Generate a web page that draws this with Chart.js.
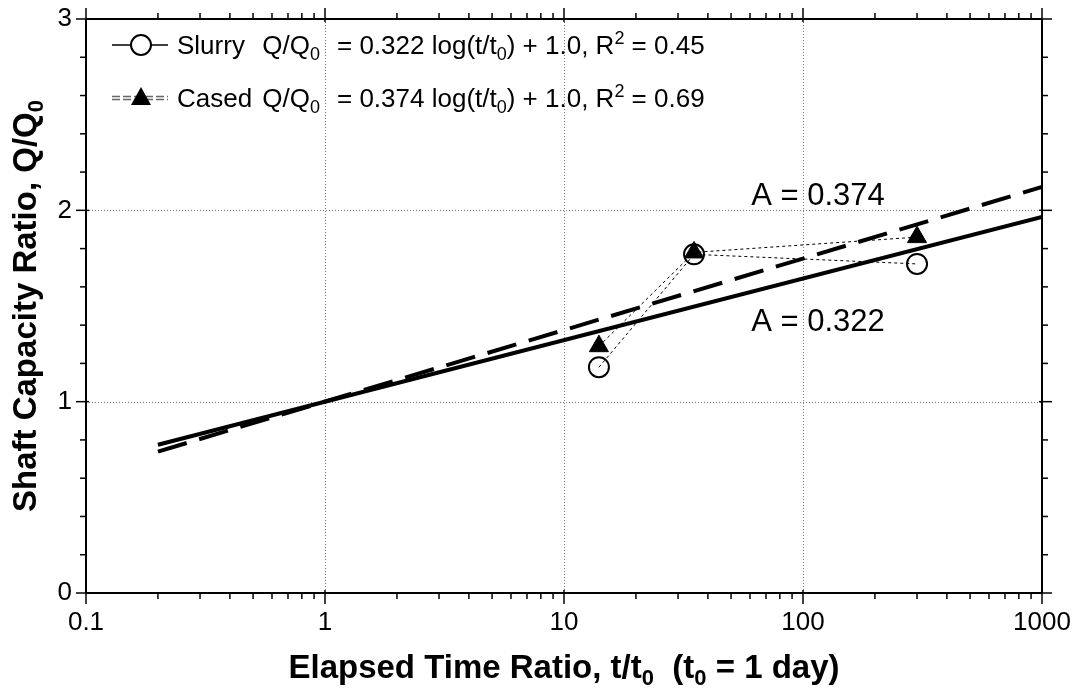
<!DOCTYPE html>
<html>
<head>
<meta charset="utf-8">
<script src="https://cdn.jsdelivr.net/npm/chart.js@4.4.1/dist/chart.umd.min.js"></script>
<style>
  html, body { margin: 0; background: #fff; }
  #wrap { width: 1075px; height: 689px; }
</style>
</head>
<body>
<div id="wrap"><canvas id="chart"></canvas></div>
<script>
// fitted lines (end points)
const fitX = [0.2, 1000];
const slurryFit = [0.775, 1.966];
const casedFit = [0.739, 2.122];

// measured points
const testTimes = [14, 35, 300];
const slurryRatio = [1.18, 1.77, 1.72];
const casedRatio = [1.29, 1.78, 1.86];

const xTickValues = [0.1, 1, 10, 100, 1000];
const xTickLabels = ['0.1', '1', '10', '100', '1000'];
const yTickValues = [0, 1, 2, 3];
const yTickLabels = ['0', '1', '2', '3'];

const FONT = '"Liberation Sans", Arial, sans-serif';

const pts = (xs, ys) => xs.map((x, i) => ({ x, y: ys[i] }));

// text with sub/superscript pieces
function richWidth(ctx, parts, size, bold) {
  let w = 0;
  parts.forEach(([t, k]) => {
    const s = k === 'n' ? size : Math.round(size * 0.68);
    ctx.font = (bold ? 'bold ' : '') + s + 'px ' + FONT;
    w += ctx.measureText(t).width;
  });
  return w;
}
function drawRich(ctx, x, y, parts, size, bold) {
  ctx.textBaseline = 'alphabetic';
  ctx.textAlign = 'left';
  parts.forEach(([t, k]) => {
    const s = k === 'n' ? size : Math.round(size * 0.68);
    ctx.font = (bold ? 'bold ' : '') + s + 'px ' + FONT;
    let dy = 0;
    if (k === 'sub') dy = size * 0.22;
    if (k === 'sup') dy = -size * 0.4;
    ctx.fillText(t, x, y + dy);
    x += ctx.measureText(t).width;
  });
  return x;
}

const decorations = {
  id: 'decorations',
  beforeDatasetsDraw(chart) {
    const { ctx, chartArea: a, scales: { x, y } } = chart;
    ctx.save();
    ctx.strokeStyle = '#777';
    ctx.lineWidth = 1;
    ctx.setLineDash([1, 2]);
    xTickValues.slice(1, -1).forEach(v => {
      const px = Math.round(x.getPixelForValue(v)) + 0.5;
      ctx.beginPath(); ctx.moveTo(px, a.top); ctx.lineTo(px, a.bottom); ctx.stroke();
    });
    yTickValues.slice(1, -1).forEach(v => {
      const py = Math.round(y.getPixelForValue(v)) + 0.5;
      ctx.beginPath(); ctx.moveTo(a.left, py); ctx.lineTo(a.right, py); ctx.stroke();
    });
    ctx.restore();
  },
  afterDatasetsDraw(chart) {
    const { ctx, chartArea: a, scales: { x, y } } = chart;
    ctx.save();
    ctx.strokeStyle = '#000';
    ctx.fillStyle = '#000';
    ctx.setLineDash([]);

    // ticks
    ctx.lineWidth = 1.5;
    const line = (x1, y1, x2, y2) => { ctx.beginPath(); ctx.moveTo(x1, y1); ctx.lineTo(x2, y2); ctx.stroke(); };
    for (let d = 0; d < xTickValues.length; d++) {
      const px = x.getPixelForValue(xTickValues[d]);
      line(px, a.bottom - 3, px, a.bottom + 11);
      line(px, a.top + 3, px, a.top - 11);
      if (d < xTickValues.length - 1) {
        for (let k = 2; k <= 9; k++) {
          const mx = x.getPixelForValue(xTickValues[d] * k);
          line(mx, a.bottom, mx, a.bottom + 6);
          line(mx, a.top, mx, a.top - 6);
        }
      }
    }
    for (let v = 0; v <= 15; v++) {
      const py = y.getPixelForValue(v * 0.2);
      const major = v % 5 === 0;
      line(a.left - (major ? 10 : 6), py, a.left + (major ? 3 : 0), py);
      line(a.right + (major ? 10 : 6), py, a.right - (major ? 3 : 0), py);
    }

    // frame
    ctx.lineWidth = 2;
    ctx.strokeRect(a.left, a.top, a.right - a.left, a.bottom - a.top);

    // legend
    const lx1 = 112, lx2 = 168, lc = 141;
    let ly = 45;
    ctx.lineWidth = 1.5;
    line(lx1, ly, lx2, ly);
    ctx.fillStyle = '#fff';
    ctx.beginPath(); ctx.arc(lc, ly, 10, 0, Math.PI * 2); ctx.fill();
    ctx.lineWidth = 2; ctx.stroke();
    ctx.fillStyle = '#000';
    ly = 98;
    ctx.strokeStyle = '#666';
    ctx.lineWidth = 1.5;
    ctx.setLineDash([8, 3]);
    line(lx1, ly - 1.5, lx2, ly - 1.5);
    line(lx1, ly + 1.5, lx2, ly + 1.5);
    ctx.setLineDash([]);
    ctx.strokeStyle = '#000';
    ctx.beginPath();
    ctx.moveTo(lc, ly - 11); ctx.lineTo(lc + 10, ly + 7); ctx.lineTo(lc - 10, ly + 7); ctx.closePath();
    ctx.fill();

    const LS = 26;
    const qParts = [['Q/Q', 'n'], ['0', 'sub']];
    const qEnd = 320, eqX = 337;
    const rows = [
      { y: 54, name: 'Slurry', eq: [['= 0.322 log(t/t', 'n'], ['0', 'sub'], [') + 1.0, R', 'n'], ['2', 'sup'], [' = 0.45', 'n']] },
      { y: 107, name: 'Cased', eq: [['= 0.374 log(t/t', 'n'], ['0', 'sub'], [') + 1.0, R', 'n'], ['2', 'sup'], [' = 0.69', 'n']] }
    ];
    rows.forEach(r => {
      drawRich(ctx, 177, r.y, [[r.name, 'n']], LS, false);
      drawRich(ctx, qEnd - richWidth(ctx, qParts, LS, false), r.y, qParts, LS, false);
      drawRich(ctx, eqX, r.y, r.eq, LS, false);
    });

    // slope annotations
    ctx.font = '31px ' + FONT;
    ctx.textAlign = 'center';
    ctx.textBaseline = 'middle';
    ctx.fillText('A = 0.374', 818, 196);
    ctx.fillText('A = 0.322', 818, 322);
    ctx.restore();
  },
  afterDraw(chart) {
    const { ctx, chartArea: a } = chart;
    ctx.save();
    ctx.fillStyle = '#000';
    const TS = 33;
    const xt = [['Elapsed Time Ratio, t/t', 'n'], ['0', 'sub'], ['  (t', 'n'], ['0', 'sub'], [' = 1 day)', 'n']];
    const xw = richWidth(ctx, xt, TS, true);
    drawRich(ctx, (a.left + a.right) / 2 - xw / 2, 678, xt, TS, true);

    const yt = [['Shaft Capacity Ratio, Q/Q', 'n'], ['0', 'sub']];
    const yw = richWidth(ctx, yt, TS, true);
    ctx.translate(36, (a.top + a.bottom) / 2);
    ctx.rotate(-Math.PI / 2);
    drawRich(ctx, -yw / 2, 0, yt, TS, true);
    ctx.restore();
  }
};

new Chart(document.getElementById('chart'), {
  type: 'line',
  data: {
    datasets: [
      {
        label: 'Slurry',
        data: pts(testTimes, slurryRatio),
        borderColor: '#000',
        borderWidth: 1,
        borderDash: [3, 3],
        pointStyle: 'circle',
        pointRadius: 10,
        pointBorderWidth: 2,
        pointBackgroundColor: 'rgba(0,0,0,0)',
        pointBorderColor: '#000',
        order: 0
      },
      {
        label: 'Cased',
        data: pts(testTimes, casedRatio),
        borderColor: '#000',
        borderWidth: 1,
        borderDash: [3, 3],
        pointStyle: 'triangle',
        pointRadius: 11,
        pointBorderWidth: 1,
        pointBackgroundColor: '#000',
        pointBorderColor: '#000',
        order: 0
      },
      {
        label: 'Slurry fit',
        data: pts(fitX, slurryFit),
        borderColor: '#000',
        borderWidth: 4,
        pointRadius: 0,
        order: 1
      },
      {
        label: 'Cased fit',
        data: pts(fitX, casedFit),
        borderColor: '#000',
        borderWidth: 4,
        borderDash: [30, 13],
        pointRadius: 0,
        order: 1
      }
    ]
  },
  options: {
    responsive: true,
    maintainAspectRatio: false,
    animation: false,
    layout: { padding: { top: 19, right: 33, left: 0, bottom: 0 } },
    plugins: {
      legend: { display: false },
      tooltip: { enabled: false }
    },
    scales: {
      x: {
        type: 'logarithmic',
        min: 0.1,
        max: 1000,
        grid: { display: false, drawTicks: false },
        border: { display: false },
        afterBuildTicks: s => { s.ticks = xTickValues.map(v => ({ value: v })); },
        afterFit: s => { s.height = 96; s.paddingLeft = 0; s.paddingRight = 0; },
        ticks: {
          autoSkip: false,
          maxRotation: 0,
          padding: 14,
          color: '#000',
          font: { family: FONT, size: 26 },
          callback: (v) => xTickLabels[xTickValues.indexOf(v)]
        }
      },
      y: {
        type: 'linear',
        min: 0,
        max: 3,
        grid: { display: false, drawTicks: false },
        border: { display: false },
        afterBuildTicks: s => { s.ticks = yTickValues.map(v => ({ value: v })); },
        afterFit: s => { s.width = 86; s.paddingTop = 0; s.paddingBottom = 0; },
        ticks: {
          padding: 14,
          color: '#000',
          font: { family: FONT, size: 26 },
          callback: (v) => yTickLabels[yTickValues.indexOf(v)]
        }
      }
    }
  },
  plugins: [decorations]
});
</script>
</body>
</html>
